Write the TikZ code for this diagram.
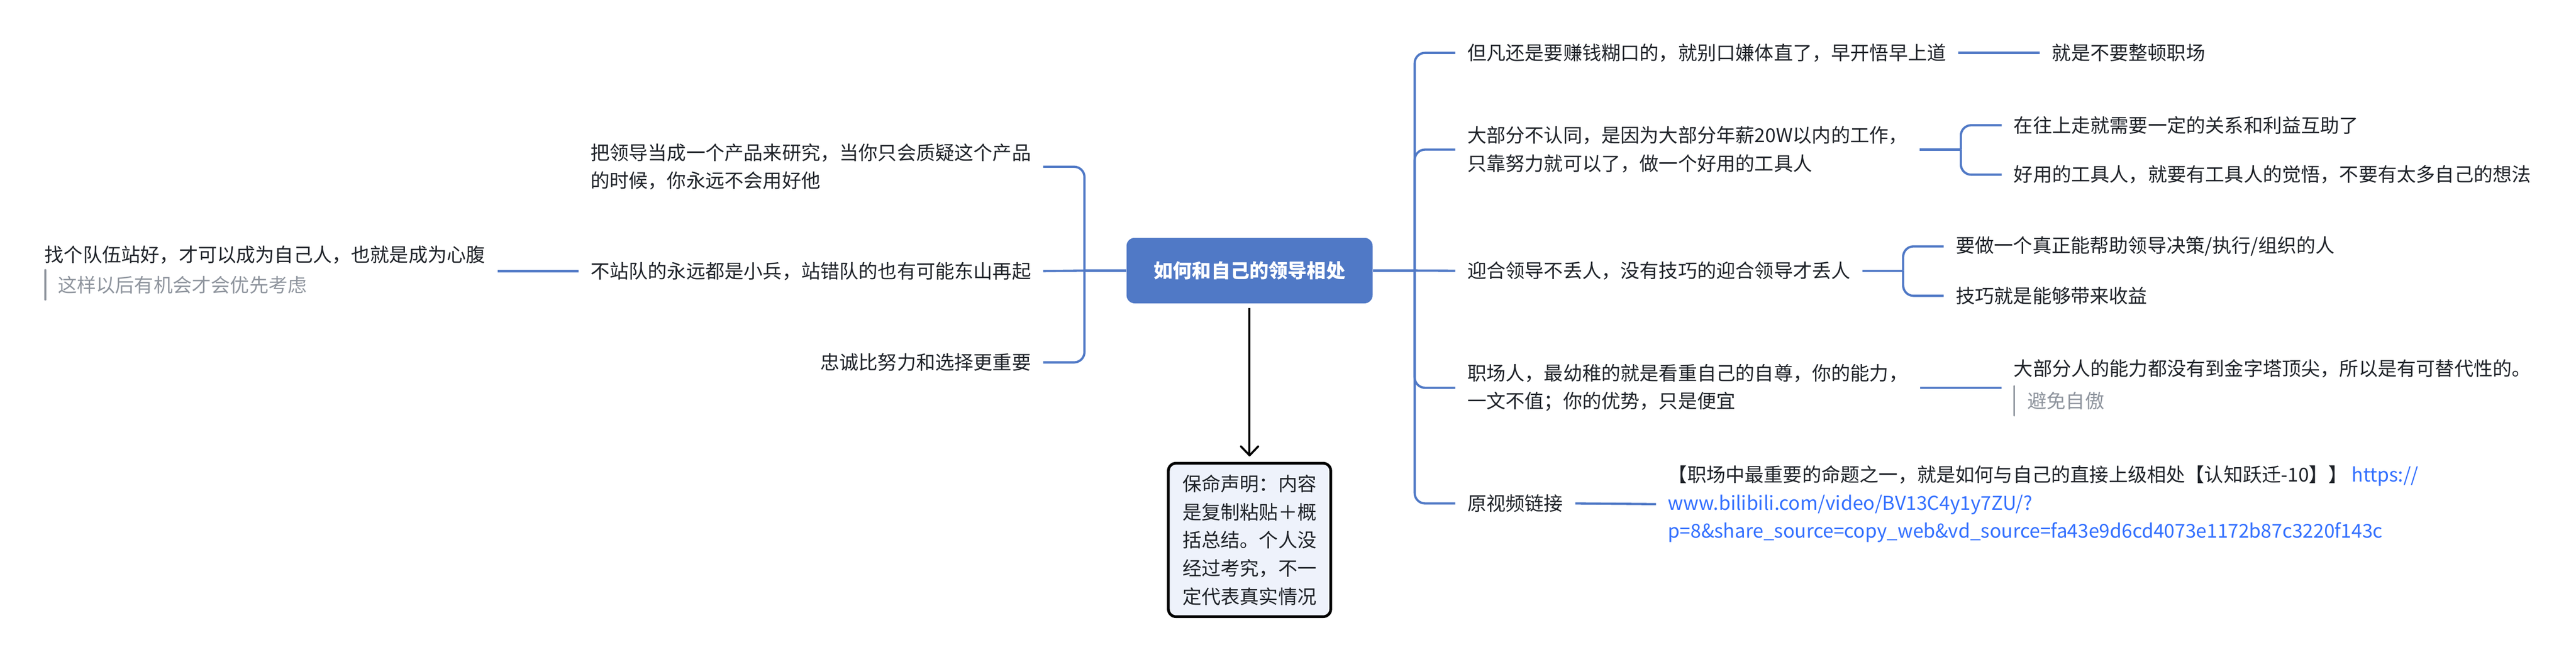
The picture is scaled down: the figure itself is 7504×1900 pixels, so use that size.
\documentclass[tikz,border=0pt]{standalone}
\usepackage{fontspec}
\setmainfont{Noto Sans CJK SC}
\usetikzlibrary{arrows.meta,fit,calc}
\definecolor{brblue}{HTML}{5079C6}
\definecolor{txt}{HTML}{1F2329}
\definecolor{notegray}{HTML}{8F959E}
\definecolor{linkblue}{HTML}{3370FF}
\definecolor{boxfill}{HTML}{EEF2FB}
\newcommand\mmfs{\fontsize{27.9pt}{41pt}\selectfont}
\tikzset{
  topic/.style={font=\mmfs, text=txt, inner xsep=17.5pt, inner ysep=3pt, align=left},
  notetext/.style={font=\mmfs, text=notegray, inner xsep=0pt, inner ysep=0pt, minimum height=43pt, anchor=west},
  branch/.style={draw=brblue, line width=3.25pt, rounded corners=15pt},
  notebar/.style={draw=notegray, line width=2.5pt, line cap=round},
  rootbox/.style={fill=brblue, rounded corners=12pt, minimum width=358.5pt, minimum height=95.5pt,
    font=\mmfs\bfseries, text=white, inner sep=0pt},
  warnbox/.style={draw=black, fill=boxfill, line width=4pt, rounded corners=11pt,
    minimum width=236.5pt, minimum height=223.5pt, font=\mmfs, text=txt, align=left, inner sep=0pt},
  bigarrow/.style={draw=black, line width=3pt, -{Straight Barb[length=13pt,width=25pt,round]},
    shorten <=6.5pt, shorten >=8pt},
}
\begin{document}
\begin{tikzpicture}[x=0.5pt,y=-0.5pt]
\useasboundingbox[fill=white] (0,0) rectangle (7504,1900);

% root
\node[rootbox] (C) at (3640,788.5) {如何和自己的领导相处};

% junction points
\coordinate (lb) at (3159,788.5);
\coordinate (rb) at (4121,788.5);
\coordinate (x2) at (5712,0);
\coordinate (x3) at (5544,0);

% left topics
\node[topic, anchor=east] (L1) at (3039,486) {把领导当成一个产品来研究，当你只会质疑这个产品\\的时候，你永远不会用好他};
\node[topic, anchor=east] (L2) at (3039,790) {不站队的永远都是小兵，站错队的也有可能东山再起};
\node[topic, anchor=east] (L3) at (3039,1056) {忠诚比努力和选择更重要};

% left child with note
\node[topic, anchor=east] (L2t) at (1449,742) {找个队伍站好，才可以成为自己人，也就是成为心腹};
\node[notetext] (L2n) at (168,830) {这样以后有机会才会优先考虑};
\node[fit=(L2t)(L2n), inner sep=0pt] (L2c) {};
\draw[notebar] ([xshift=-18pt]L2n.north west) -- ([xshift=-18pt]L2n.south west);

% right topics
\node[topic, anchor=west] (R1) at (4239,154) {但凡还是要赚钱糊口的，就别口嫌体直了，早开悟早上道};
\node[topic, anchor=west] (R1a) at (5942,154) {就是不要整顿职场};

\node[topic, anchor=west] (R2) at (4239,436) {大部分不认同，是因为大部分年薪20W以内的工作，\\只靠努力就可以了，做一个好用的工具人};
\node[topic, anchor=west] (R2a) at (5831,365) {在往上走就需要一定的关系和利益互助了};
\node[topic, anchor=west] (R2b) at (5831,509) {好用的工具人，就要有工具人的觉悟，不要有太多自己的想法};

\node[topic, anchor=west] (R3) at (4239,789) {迎合领导不丢人，没有技巧的迎合领导才丢人};
\node[topic, anchor=west] (R3a) at (5662,718) {要做一个真正能帮助领导决策/执行/组织的人};
\node[topic, anchor=west] (R3b) at (5662,862) {技巧就是能够带来收益};

\node[topic, anchor=west] (R4) at (4239,1130) {职场人，最幼稚的就是看重自己的自尊，你的能力，\\一文不值；你的优势，只是便宜};
\node[topic, anchor=west] (R4t) at (5831,1074) {大部分人的能力都没有到金字塔顶尖，所以是有可替代性的。};
\node[notetext] (R4n) at (5906,1168) {避免自傲};
\node[fit=(R4t)(R4n), inner sep=0pt] (R4c) {};
\draw[notebar] ([xshift=-19.5pt]R4n.north west) -- ([xshift=-19.5pt]R4n.south west);

\node[topic, anchor=west] (R5) at (4239,1467) {原视频链接};
\node[topic, anchor=west] (R5a) at (4824,1469) {【职场中最重要的命题之一，就是如何与自己的直接上级相处【认知跃迁-10】】 {\color{linkblue}https://}\\
{\color{linkblue}www.bilibili.com/video/BV13C4y1y7ZU/?}\\
{\color{linkblue}p=8\&share\_source=copy\_web\&vd\_source=fa43e9d6cd4073e1172b87c3220f143c}};

% disclaimer box
\node[warnbox] (B) at (3640,1573.5) {保命声明：内容\\是复制粘贴＋概\\括总结。个人没\\经过考究，不一\\定代表真实情况};

% connectors
\draw[branch] (C.west) -- (lb);
\draw[branch] (lb) |- (L1.east);
\draw[branch] (lb) |- (L3.east);
\draw[branch] (lb) -- (L2.east);
\draw[branch] (L2.west) -- (L2.west -| L2c.east);

\draw[branch] (C.east) -- (rb);
\draw[branch] (rb) |- (R1.west);
\draw[branch] (rb) |- (R2.west);
\draw[branch] (rb) -- (R3.west);
\draw[branch] (rb) |- (R4.west);
\draw[branch] (rb) |- (R5.west);

\draw[branch] (R1.east) -- (R1a.west);
\draw[branch] (R2.east) -- (R2.east -| x2);
\draw[branch] (R2.east -| x2) |- (R2a.west);
\draw[branch] (R2.east -| x2) |- (R2b.west);
\draw[branch] (R3.east) -- (R3.east -| x3);
\draw[branch] (R3.east -| x3) |- (R3a.west);
\draw[branch] (R3.east -| x3) |- (R3b.west);
\draw[branch] (R4.east) -- (R4.east -| R4c.west);
\draw[branch] (R5.east) -- (R5a.west);

\draw[bigarrow] (C.south) -- (B.north);
\end{tikzpicture}
\end{document}
